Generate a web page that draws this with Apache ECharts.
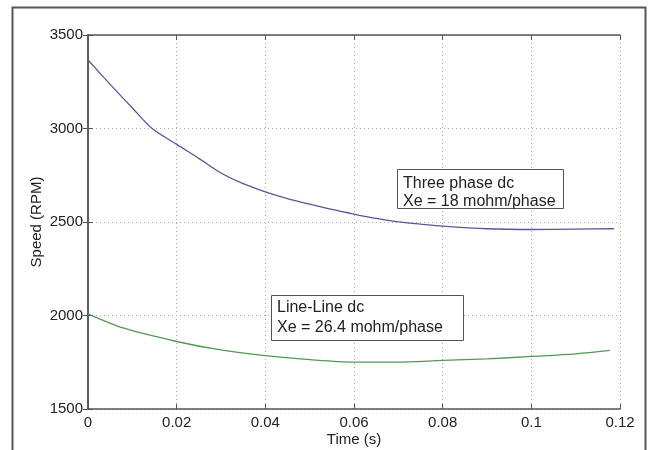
<!DOCTYPE html>
<html>
<head>
<meta charset="utf-8">
<script src="https://cdn.jsdelivr.net/npm/echarts@6/dist/echarts.min.js"></script>
<style>html,body{margin:0;padding:0;background:#fff;}#c{width:648px;height:450px;}</style>
</head>
<body>
<div id="c"></div>
<script>
// Three phase dc curve (time s, speed RPM)
var threeTime  = [0, 0.005, 0.01, 0.0144, 0.02, 0.025, 0.03, 0.035, 0.04, 0.045, 0.05, 0.055, 0.06, 0.065, 0.07, 0.075, 0.08, 0.09, 0.1, 0.11, 0.1186];
var threeSpeed = [3366, 3236, 3110, 3001, 2915, 2840, 2762, 2705, 2661, 2625, 2595, 2567, 2542, 2519, 2501, 2489, 2478, 2464, 2460, 2462, 2464];
// Line-Line dc curve
var llTime  = [0, 0.0081, 0.02, 0.0296, 0.04, 0.05, 0.06, 0.0697, 0.08, 0.09, 0.1, 0.11, 0.1177];
var llSpeed = [2009, 1932, 1861, 1817, 1785, 1764, 1751, 1751, 1760, 1768, 1781, 1795, 1813];
// axis ticks
var xTicks = {min: 0, max: 0.12, step: 0.02};
var yTicks = {min: 1500, max: 3500, step: 500};
var xTitle = 'Time (s)';
var yTitle = 'Speed (RPM)';
var note1 = ['Three phase dc', 'Xe = 18 mohm/phase'];
var note2 = ['Line-Line dc', 'Xe = 26.4 mohm/phase'];

function pairs(t, v) { return t.map(function (x, i) { return [x, v[i]]; }); }

var FONT = '"Liberation Sans", Arial, sans-serif';
var AX = '#555';
var chart = echarts.init(document.getElementById('c'));
var gridLine = {show: true, lineStyle: {color: '#aaa', type: [1, 3], width: 1}};
var option = {
  animation: false,
  backgroundColor: '#fff',
  grid: {left: 88, top: 35, right: 28, bottom: 41, containLabel: false, outerBoundsMode: 'none'},
  xAxis: [{
    type: 'value', position: 'bottom', min: xTicks.min, max: xTicks.max, interval: xTicks.step,
    axisLine: {lineStyle: {color: AX, width: 1.5}},
    axisTick: {inside: true, length: 5, lineStyle: {color: AX}},
    axisLabel: {fontFamily: FONT, fontSize: 15, color: '#222', margin: 6,
      formatter: function (v) { return String(+v.toFixed(2)); }},
    splitLine: gridLine,
    name: xTitle, nameLocation: 'middle', nameGap: 23, nameMoveOverlap: false,
    nameTextStyle: {fontFamily: FONT, fontSize: 15, color: '#222'}
  }, {
    type: 'value', position: 'top', min: xTicks.min, max: xTicks.max, interval: xTicks.step,
    axisLine: {lineStyle: {color: AX, width: 1.5}},
    axisTick: {inside: true, length: 5, lineStyle: {color: AX}},
    axisLabel: {show: false}, splitLine: {show: false}
  }],
  yAxis: [{
    type: 'value', position: 'left', min: yTicks.min, max: yTicks.max, interval: yTicks.step,
    axisLine: {show: true, lineStyle: {color: AX, width: 1.5}},
    axisTick: {show: true, inside: true, length: 5, lineStyle: {color: AX}},
    axisLabel: {fontFamily: FONT, fontSize: 15, color: '#222', margin: 5,
      formatter: function (v) { return String(v); }},
    splitLine: gridLine,
    name: yTitle, nameLocation: 'middle', nameGap: 44, nameMoveOverlap: false,
    nameTextStyle: {fontFamily: FONT, fontSize: 15, color: '#222'}
  }, {
    type: 'value', position: 'right', min: yTicks.min, max: yTicks.max, interval: yTicks.step,
    axisLine: {show: true, lineStyle: {color: AX, width: 1.5}},
    axisTick: {show: true, inside: true, length: 5, lineStyle: {color: AX}},
    axisLabel: {show: false}, splitLine: {show: false}
  }],
  series: [{
    type: 'line', data: pairs(threeTime, threeSpeed), showSymbol: false, smooth: 0.3,
    lineStyle: {color: '#56569c', width: 1.3}, z: 3
  }, {
    type: 'line', data: pairs(llTime, llSpeed), showSymbol: false, smooth: 0.3,
    lineStyle: {color: '#529a52', width: 1.3}, z: 3
  }],
  graphic: [
    {type: 'rect', shape: {x: 12.5, y: 7.5, width: 633, height: 460}, style: {fill: null, stroke: '#555', lineWidth: 2}, z: 100},
    {type: 'rect', shape: {x: 397.5, y: 169.5, width: 166, height: 39}, style: {fill: '#fff', stroke: '#555', lineWidth: 1}, z: 50},
    {type: 'text', x: 403, y: 175, style: {text: note1.join('\n'), font: '16px ' + FONT, fill: '#222', lineHeight: 18}, z: 51},
    {type: 'rect', shape: {x: 271.5, y: 295.5, width: 192, height: 45}, style: {fill: '#fff', stroke: '#555', lineWidth: 1}, z: 50},
    {type: 'text', x: 277, y: 297.5, style: {text: note2.join('\n'), font: '16px ' + FONT, fill: '#222', lineHeight: 20}, z: 51}
  ]
};
chart.setOption(option);
</script>
</body>
</html>
